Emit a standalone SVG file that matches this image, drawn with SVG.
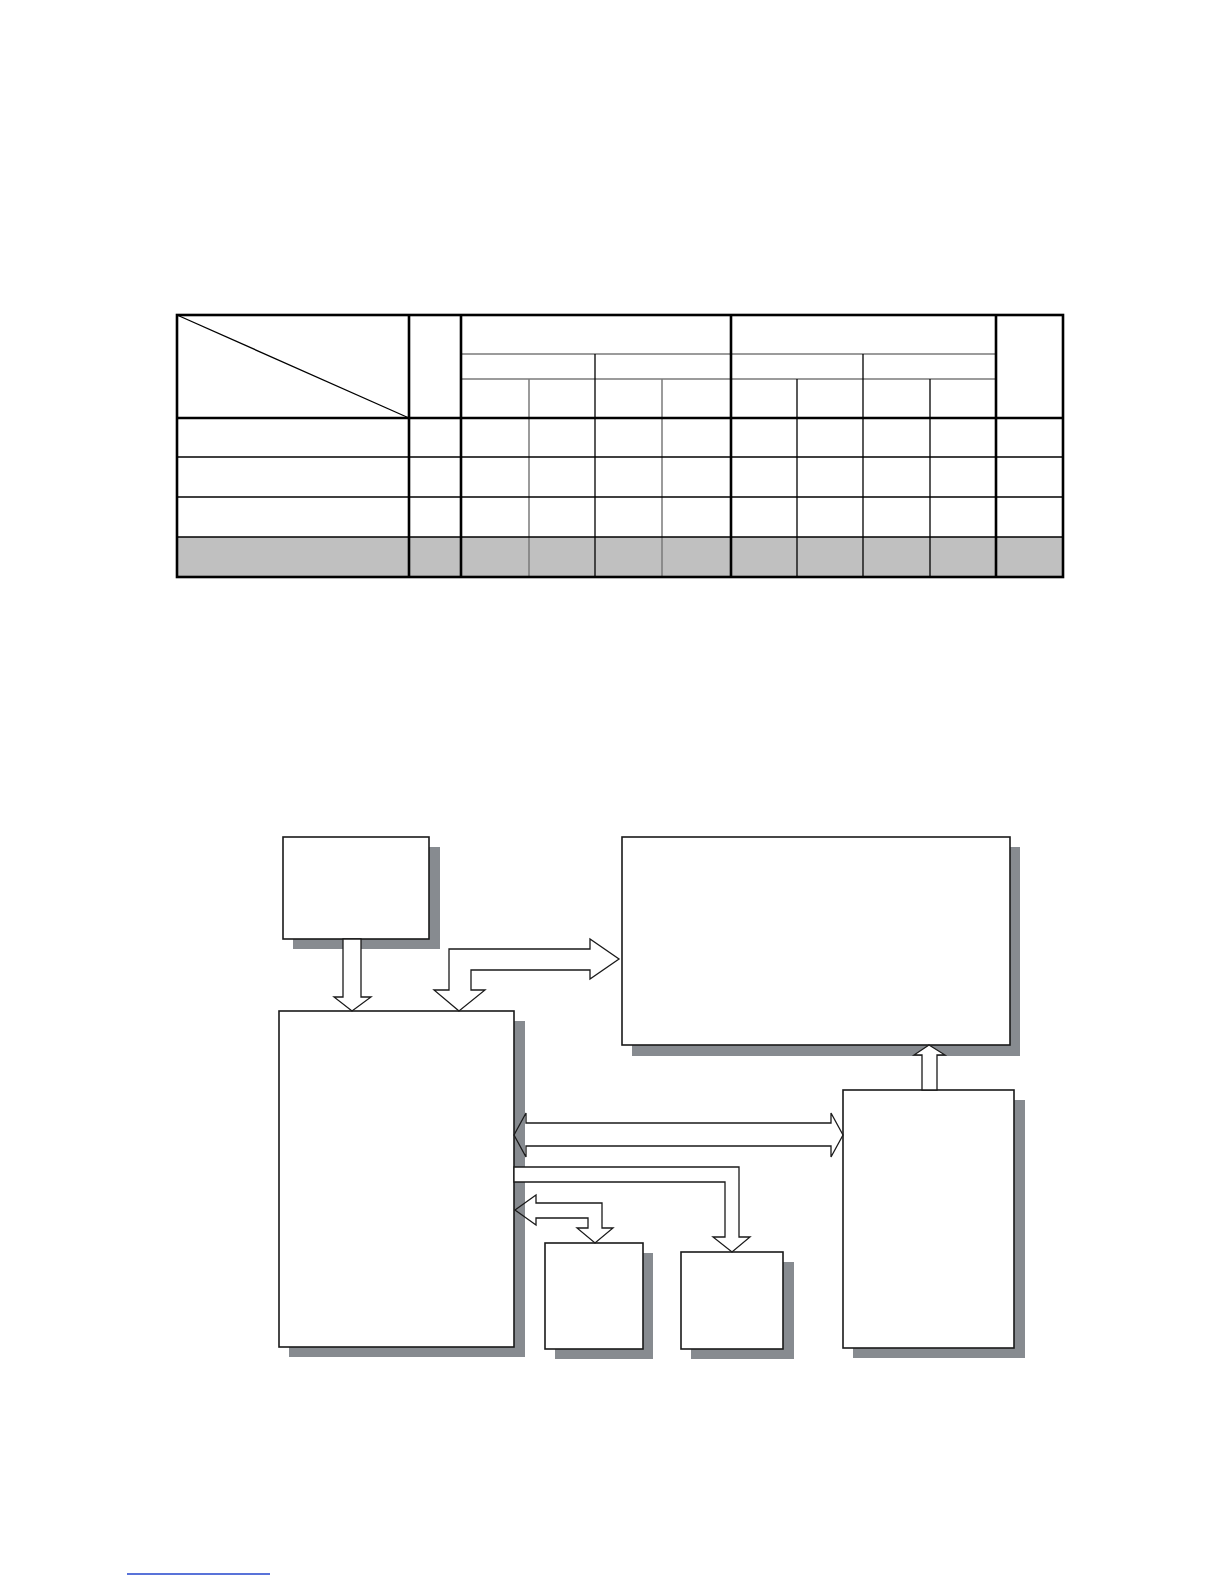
<svg xmlns="http://www.w3.org/2000/svg" width="1224" height="1584" viewBox="0 0 1224 1584">
<style>
.thick{stroke:#000;stroke-width:2.6;fill:none}
.thin{stroke:#000;stroke-width:1.3;fill:none}
.gray{stroke:#7a7a7a;stroke-width:1.5;fill:none}
.shadow{fill:#878b90;stroke:none}
.box{fill:#fff;stroke:#1a1a1a;stroke-width:1.6}
.arrow{fill:#fff;stroke:#1a1a1a;stroke-width:1.3;stroke-linejoin:miter}
.arrowo{fill:none;stroke:#1a1a1a;stroke-width:1.3;stroke-linejoin:miter}
</style>
<rect width="1224" height="1584" fill="#fff"/>
<g id="table">
  <rect x="177" y="537" width="886" height="40" fill="#c0c0c0"/>
  <line class="gray" x1="461" y1="354" x2="996" y2="354"/>
  <line class="gray" x1="461" y1="379" x2="996" y2="379"/>
  <line class="gray" x1="529" y1="379" x2="529" y2="577"/>
  <line class="gray" x1="662" y1="379" x2="662" y2="577"/>
  <line class="thin" x1="797" y1="379" x2="797" y2="577"/>
  <line class="thin" x1="930" y1="379" x2="930" y2="577"/>
  <line class="thin" x1="595" y1="354" x2="595" y2="577"/>
  <line class="thin" x1="863" y1="354" x2="863" y2="577"/>
  <line class="thin" x1="177" y1="457" x2="1063" y2="457"/>
  <line class="thin" x1="177" y1="497" x2="1063" y2="497"/>
  <line class="thin" x1="177" y1="537" x2="1063" y2="537"/>
  <line class="thin" x1="177" y1="315" x2="409" y2="418"/>
  <line class="thick" x1="177" y1="418" x2="1063" y2="418"/>
  <line class="thick" x1="409" y1="315" x2="409" y2="577"/>
  <line class="thick" x1="461" y1="315" x2="461" y2="577"/>
  <line class="thick" x1="731" y1="315" x2="731" y2="577"/>
  <line class="thick" x1="996" y1="315" x2="996" y2="577"/>
  <rect class="thick" x="177" y="315" width="886" height="262"/>
</g>
<g id="node-a">
  <rect class="shadow" x="293" y="847" width="147" height="102"/>
  <rect class="box" x="283" y="837" width="146" height="102"/>
</g>
<g id="node-c">
  <rect class="shadow" x="632" y="847" width="388" height="209"/>
  <rect class="box" x="622" y="837" width="388" height="208"/>
</g>
<g id="node-b">
  <rect class="shadow" x="289" y="1021" width="236" height="336"/>
  <rect class="box" x="279" y="1011" width="235" height="336"/>
</g>
<g id="node-d">
  <rect class="shadow" x="853" y="1100" width="172" height="258"/>
  <rect class="box" x="843" y="1090" width="171" height="258"/>
</g>
<g id="node-e">
  <rect class="shadow" x="555" y="1253" width="98" height="106"/>
  <rect class="box" x="545" y="1243" width="98" height="106"/>
</g>
<g id="node-f">
  <rect class="shadow" x="691" y="1262" width="103" height="97"/>
  <rect class="box" x="681" y="1252" width="102" height="97"/>
</g>
<g id="connectors">
  <path class="arrow" d="M343,939 L361,939 L361,997 L371,997 L352,1011 L334,997 L343,997 Z"/>
  <path class="arrow" d="M459,1011 L434,990 L449,990 L449,949 L590,949 L590,939 L619,959 L590,979 L590,970 L471,970 L471,990 L485,990 Z"/>
  <path class="arrow" d="M929,1045 L945,1055 L937,1055 L937,1090 L922,1090 L922,1055 L914,1055 Z"/>
  <path class="arrowo" d="M514,1135 L526,1113 L526,1123 L831,1123 L831,1113 L843,1135 L831,1157 L831,1146 L526,1146 L526,1157 Z"/>
  <path class="arrow" d="M514,1167 L739,1167 L739,1237 L750,1237 L732,1252 L713,1237 L725,1237 L725,1182 L514,1182 Z"/>
  <path class="arrowo" d="M515,1210 L536,1195 L536,1203 L602,1203 L602,1228 L613,1228 L595,1243 L577,1228 L588,1228 L588,1218 L536,1218 L536,1225 Z"/>
</g>
<line x1="127" y1="1574" x2="270" y2="1574" stroke="#2244cc" stroke-width="1.3"/>
</svg>
